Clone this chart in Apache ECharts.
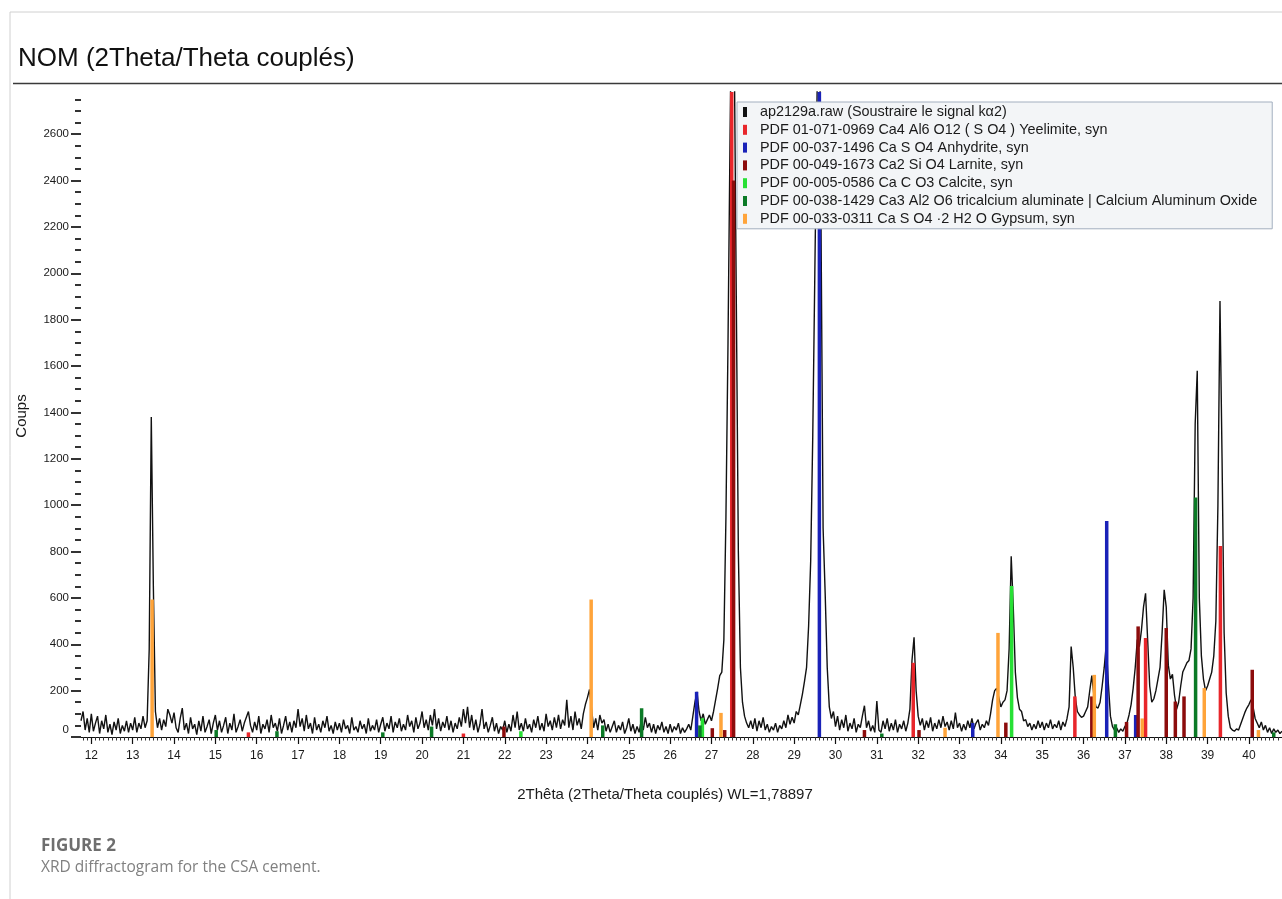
<!DOCTYPE html>
<html><head><meta charset="utf-8">
<script src="https://cdn.jsdelivr.net/npm/echarts@6/dist/echarts.min.js"></script>
<style>html,body{margin:0;padding:0;background:#fff}#c{width:1282px;height:899px}</style>
</head><body><div id="c"></div>
<script>
// Scan: first row starts at 11.75°, next rows start at each integer degree, step 0.05°
const firstRowStart = 11.75;
const stepAngle = 0.05;
const countRows = [
  [70,110,30,80,20],
  [100,25,60,90,15,70,35,95,20,55,10,65,30,80,15,50,25,70,20,60],
  [30,85,20,60,35,90,40,70,380,1380,650,110,40,80,30,75,45,120,95,60],
  [105,40,20,80,125,30,60,15,85,35,55,10,70,25,90,20,45,75,15,60],
  [95,30,70,20,50,85,15,60,30,100,20,45,75,25,60,85,110,50,20,65],
  [30,90,15,55,35,75,20,95,40,60,25,80,15,50,90,30,65,20,70,40],
  [120,45,80,25,95,35,60,15,85,30,55,20,70,40,90,25,50,15,65,30],
  [60,20,75,35,50,15,85,30,45,20,70,35,55,15,80,25,50,30,75,20],
  [55,85,25,60,35,90,20,65,40,80,25,55,30,95,45,70,20,85,35,60],
  [110,40,75,30,95,50,120,35,80,25,65,40,90,30,70,20,60,35,85,45],
  [120,60,130,40,95,30,75,20,55,120,35,65,20,50,85,25,60,15,45,30],
  [70,20,55,25,95,40,110,30,60,25,80,35,55,20,75,40,90,30,60,25],
  [100,45,70,30,85,40,95,35,75,50,160,40,90,30,110,50,80,35,100,140],
  [170,205,120,40,80,30,95,60,75,25,55,20,45,70,20,50,30,65,15,40],
  [80,25,55,15,45,20,70,30,85,40,60,20,55,15,50,30,65,20,45,15],
  [55,20,45,30,60,15,40,20,35,55,30,90,150,195,110,70,100,55,75,95],
  [70,110,160,210,265,280,420,950,1700,2600,3400,3000,1900,800,300,150,90,60,40,70],
  [35,80,25,70,40,85,30,55,20,45,30,60,20,50,35,70,40,95,55,85],
  [60,110,95,140,185,240,300,480,760,1300,2000,2700,3500,2200,900,620,300,130,80,110],
  [45,90,30,75,40,95,25,60,35,80,20,55,40,90,135,40,70,25,50,20],
  [155,30,20,70,35,80,25,60,30,75,20,55,35,70,25,60,120,330,430,200],
  [90,50,80,30,70,40,85,25,60,35,75,40,90,45,65,30,70,35,105,40],
  [60,25,55,30,70,40,80,35,60,75,30,55,40,70,50,100,160,200,210,170],
  [130,150,160,200,380,780,560,280,170,120,110,70,75,45,60,30,55,35,70,40],
  [65,30,60,40,75,35,55,40,70,30,65,45,80,130,390,300,170,110,95,85],
  [90,110,130,200,265,180,130,125,150,220,300,400,230,90,45,30,40,20,35,25],
  [45,60,95,140,210,300,420,390,460,560,620,420,220,150,165,200,250,300,450,635],
  [560,310,250,270,180,120,150,220,280,300,320,330,380,600,1350,1580,600,350,250,200],
  [220,250,280,350,500,1000,1880,1200,450,190,90,40,30,25,35,30,55,80,105,125],
  [140,160,130,80,60,40,65,30,50,20,40,15,35,20,30,15,25]
];

// Reference patterns (stick positions in 2θ, heights in counts)
const yeelimitePos = [15.80, 21.00, 27.49, 31.88, 35.79, 37.50, 39.31];
const yeelimiteInt = [20, 15, 3500, 320, 175, 427, 824];
const anhydritePos = [26.64, 29.61, 33.32, 36.56, 37.26];
const anhydriteInt = [195, 3500, 60, 932, 95];
const larnitePos = [21.98, 27.02, 27.32, 27.535, 30.70, 32.02, 34.12, 36.20, 37.04, 37.32, 38.00, 38.22, 38.43, 40.08];
const larniteInt = [45, 38, 30, 2400, 30, 30, 62, 175, 65, 477, 470, 153, 175, 290];
const calcitePos = [22.39, 26.78, 34.26];
const calciteInt = [25, 81, 651];
const c3aPos = [15.02, 16.49, 19.05, 20.23, 24.37, 25.31, 26.72, 31.12, 36.77, 38.71, 40.60];
const c3aInt = [30, 25, 20, 45, 50, 124, 50, 15, 55, 1033, 20];
const gypsumPos = [13.47, 24.09, 27.23, 32.65, 33.93, 36.26, 37.42, 38.92, 40.23];
const gypsumInt = [593, 593, 104, 40, 449, 268, 80, 211, 30];

const xTickLabels = [12,13,14,15,16,17,18,19,20,21,22,23,24,25,26,27,28,29,30,31,32,33,34,35,36,37,38,39,40];
const yTickLabels = [0,200,400,600,800,1000,1200,1400,1600,1800,2000,2200,2400,2600];

const xMin = 11.75, xMax = 40.8, yMax = 2782;

const scanData = [];
countRows.forEach((row, k) => {
  const start = k === 0 ? firstRowStart : 11 + k;
  row.forEach((c, j) => scanData.push([+(start + j * stepAngle).toFixed(3), c]));
});

const xMinor = [];
for (let i = Math.ceil(xMin * 10); i <= Math.floor(xMax * 10); i++) { if (i % 10 !== 0) xMinor.push(i / 10); }
const yMinor = [];
for (let v = 50; v <= 2750; v += 50) { if (v % 200 !== 0) yMinor.push(v); }

const FONT = '"Liberation Sans", Arial, sans-serif';
function stickSeries(name, color, pos, ints) {
  return {
    name, type: 'custom', clip: true, z: 3,
    itemStyle: { color },
    data: pos.map((p, i) => [p, ints[i]]),
    renderItem: (params, api) => {
      const b = api.coord([api.value(0), 0]);
      const t = api.coord([api.value(0), api.value(1)]);
      return { type: 'rect', shape: { x: b[0] - 1.75, y: t[1], width: 3.5, height: b[1] - t[1] }, style: { fill: color } };
    }
  };
}

const chart = echarts.init(document.getElementById('c'), null, { renderer: 'canvas' });
chart.setOption({
  animation: false,
  backgroundColor: '#fff',
  textStyle: { fontFamily: FONT },
  grid: { left: 81, right: 0, top: 92, bottom: 162 },
  legend: {
    orient: 'vertical', left: 737, top: 102, icon: 'rect', itemWidth: 4, itemHeight: 10,
    itemGap: 3.8, padding: [3, 15, 3, 6], selectedMode: false,
    backgroundColor: '#f3f5f7', borderColor: '#a3afbf', borderWidth: 1,
    textStyle: { fontSize: 14.4, color: '#1a1a1a', fontFamily: FONT, lineHeight: 14, padding: [0, 0, 0, 8] },
    data: ['ap2129a.raw (Soustraire le signal kα2)',
      'PDF 01-071-0969 Ca4 Al6 O12 ( S O4 ) Yeelimite, syn',
      'PDF 00-037-1496 Ca S O4 Anhydrite, syn',
      'PDF 00-049-1673 Ca2 Si O4 Larnite, syn',
      'PDF 00-005-0586 Ca C O3 Calcite, syn',
      'PDF 00-038-1429 Ca3 Al2 O6 tricalcium aluminate | Calcium Aluminum Oxide',
      'PDF 00-033-0311 Ca S O4 ·2 H2 O Gypsum, syn']
  },
  xAxis: [{
    type: 'value', min: xMin, max: xMax,
    axisLine: { lineStyle: { color: '#111', width: 1 } },
    axisTick: { customValues: xTickLabels, length: 7, lineStyle: { color: '#111', width: 1.2 } },
    axisLabel: { customValues: xTickLabels, fontSize: 12, color: '#1a1a1a', margin: 13 },
    splitLine: { show: false }
  }, {
    type: 'value', min: xMin, max: xMax, position: 'bottom',
    axisLine: { show: false },
    axisTick: { customValues: xMinor, length: 3.5, lineStyle: { color: '#333', width: 1 } },
    axisLabel: { show: false }, splitLine: { show: false }
  }],
  yAxis: [{
    type: 'value', min: 0, max: yMax,
    axisLine: { show: false },
    axisTick: { customValues: yTickLabels, length: 10, lineStyle: { color: '#333', width: 2 } },
    axisLabel: {
      customValues: yTickLabels, fontSize: 11.5, color: '#1a1a1a', margin: 12,
      formatter: v => (v === 0 ? '{z|0}' : String(v)),
      rich: { z: { fontSize: 11.5, color: '#1a1a1a', padding: [0, 0, 14, 0] } }
    },
    splitLine: { show: false }
  }, {
    type: 'value', min: 0, max: yMax, position: 'left',
    axisLine: { show: false },
    axisTick: { customValues: yMinor, length: 6, lineStyle: { color: '#333', width: 2 } },
    axisLabel: { show: false }, splitLine: { show: false }
  }],
  series: [
    { name: 'ap2129a.raw (Soustraire le signal kα2)', type: 'line', data: scanData, showSymbol: false, symbol: 'none',
      clip: true, z: 2, itemStyle: { color: '#111' }, lineStyle: { color: '#111', width: 1.4 } },
    stickSeries('PDF 01-071-0969 Ca4 Al6 O12 ( S O4 ) Yeelimite, syn', '#e8262b', yeelimitePos, yeelimiteInt),
    stickSeries('PDF 00-037-1496 Ca S O4 Anhydrite, syn', '#1a22b8', anhydritePos, anhydriteInt),
    stickSeries('PDF 00-049-1673 Ca2 Si O4 Larnite, syn', '#8c0c0c', larnitePos, larniteInt),
    stickSeries('PDF 00-005-0586 Ca C O3 Calcite, syn', '#27e035', calcitePos, calciteInt),
    stickSeries('PDF 00-038-1429 Ca3 Al2 O6 tricalcium aluminate | Calcium Aluminum Oxide', '#0b7a26', c3aPos, c3aInt),
    stickSeries('PDF 00-033-0311 Ca S O4 ·2 H2 O Gypsum, syn', '#ffa43a', gypsumPos, gypsumInt)
  ],
  graphic: [
    { type: 'line', shape: { x1: 10, y1: 12, x2: 1282, y2: 12 }, style: { stroke: '#d0d0d0', lineWidth: 1 }, silent: true },
    { type: 'line', shape: { x1: 10, y1: 12, x2: 10, y2: 899 }, style: { stroke: '#d0d0d0', lineWidth: 1 }, silent: true },
    { type: 'line', shape: { x1: 13, y1: 83.5, x2: 1282, y2: 83.5 }, style: { stroke: '#3a3a3a', lineWidth: 1.5 }, silent: true },
    { type: 'text', x: 18, y: 59, silent: true,
      style: { text: 'NOM (2Theta/Theta couplés)', font: '26px "Liberation Sans", Arial, sans-serif', fill: '#111', align: 'left', verticalAlign: 'middle' } },
    { type: 'text', x: 665, y: 795, silent: true,
      style: { text: '2Thêta (2Theta/Theta couplés) WL=1,78897', font: '15px "Liberation Sans", Arial, sans-serif', fill: '#1a1a1a', align: 'center', verticalAlign: 'middle' } },
    { type: 'text', x: 22, y: 416, rotation: Math.PI / 2, silent: true,
      style: { text: 'Coups', font: '15px "Liberation Sans", Arial, sans-serif', fill: '#1a1a1a', align: 'center', verticalAlign: 'middle' } },
    { type: 'text', x: 41, y: 846, silent: true,
      style: { text: 'FIGURE 2', font: 'bold 17px "Open Sans", sans-serif', fill: '#6e6e6e', align: 'left', verticalAlign: 'middle' } },
    { type: 'text', x: 41, y: 868, silent: true,
      style: { text: 'XRD diffractogram for the CSA cement.', font: '15.5px "Open Sans", sans-serif', fill: '#808080', align: 'left', verticalAlign: 'middle' } }
  ]
});
</script></body></html>
